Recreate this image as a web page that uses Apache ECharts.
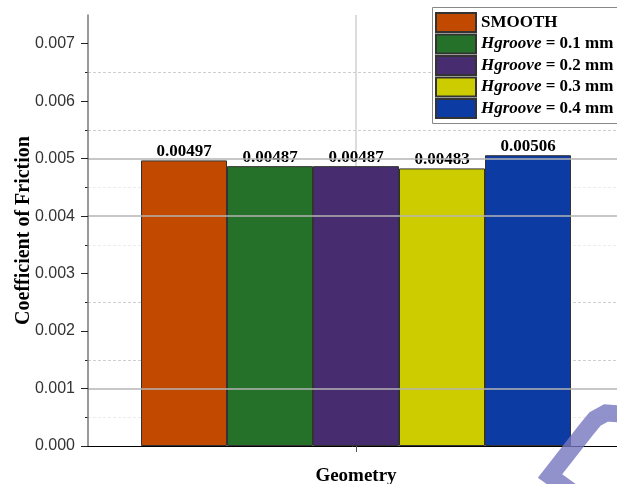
<!DOCTYPE html>
<html>
<head>
<meta charset="utf-8">
<script src="https://cdn.jsdelivr.net/npm/echarts@6/dist/echarts.min.js"></script>
<style>
html,body{margin:0;padding:0;background:#fff;}
#chart{width:617px;height:484px;}
</style>
</head>
<body>
<div id="chart"></div>
<script>
const categories = [''];
const seriesNames = ['SMOOTH', 'Hgroove = 0.1 mm', 'Hgroove = 0.2 mm', 'Hgroove = 0.3 mm', 'Hgroove = 0.4 mm'];
const values = [0.00497, 0.00487, 0.00487, 0.00483, 0.00506];
const colors = ['#C24A00', '#26712A', '#472C6F', '#CCCC00', '#0C3CA3'];
const yTicks = [0, 0.001, 0.002, 0.003, 0.004, 0.005, 0.006, 0.007];
const yMinorTicks = [0.0005, 0.0015, 0.0025, 0.0035, 0.0045, 0.0055, 0.0065];

const T = 'rgba(0,0,0,0)';
const serif = '"Liberation Serif", "Times New Roman", serif';
const sans = '"Liberation Sans", Arial, sans-serif';

const chart = echarts.init(document.getElementById('chart'), null, {renderer: 'canvas'});

const series = seriesNames.map((name, i) => ({
  name: name,
  type: 'bar',
  xAxisIndex: 0,
  yAxisIndex: 0,
  data: [values[i]],
  barWidth: 86,
  barGap: '0%',
  itemStyle: {color: colors[i], borderColor: '#333', borderWidth: 1},
  label: {
    show: true,
    position: 'top',
    distance: 0,
    formatter: p => p.value.toFixed(5),
    fontFamily: serif,
    fontWeight: 'bold',
    fontSize: 17,
    color: '#000'
  },
  z: 3
}));

const option = {
  backgroundColor: '#fff',
  animation: false,
  grid: {left: 88, top: 15, bottom: 38, right: -7, containLabel: false, outerBoundsMode: 'none'},
  xAxis: [
    {
      type: 'category',
      data: categories,
      name: 'Geometry',
      nameLocation: 'middle',
      nameGap: 21,
      nameMoveOverlap: false,
      nameTextStyle: {fontFamily: serif, fontWeight: 'bold', fontSize: 19, color: '#000'},
      axisLine: {onZero: false, lineStyle: {color: '#000', width: 1}},
      axisTick: {show: true, alignWithLabel: true, length: 6, lineStyle: {color: '#555'}},
      axisLabel: {show: false},
      splitLine: {show: false},
      z: 5
    },
    {
      type: 'value',
      min: -1,
      max: 1,
      interval: 1,
      show: true,
      position: 'bottom',
      axisLine: {show: false, onZero: false},
      axisTick: {show: false},
      axisLabel: {show: false},
      splitLine: {show: true, lineStyle: {color: [T, '#d0d0d0', T], width: 1.5}}
    }
  ],
  yAxis: [
    {
      type: 'value',
      min: 0,
      max: 0.0075,
      interval: 0.001,
      position: 'left',
      name: 'Coefficient of Friction',
      nameLocation: 'middle',
      nameGap: 54,
      nameMoveOverlap: false,
      nameTextStyle: {fontFamily: serif, fontWeight: 'bold', fontSize: 20, color: '#000'},
      axisLine: {show: true, onZero: false, lineStyle: {color: '#777', width: 1.5}},
      axisTick: {show: true, length: 7, customValues: yTicks, lineStyle: {color: '#222', width: 1}},
      axisLabel: {
        customValues: yTicks,
        margin: 13,
        fontFamily: sans,
        fontSize: 16,
        color: '#333',
        formatter: v => v.toFixed(3)
      },
      splitLine: {show: true, lineStyle: {color: [T, '#b5b5b5', T, T, '#b5b5b5', '#b5b5b5', T, T], width: 1.5}},
      z: 4
    },
    {
      type: 'value',
      min: 0,
      max: 0.0075,
      interval: 0.0005,
      position: 'left',
      axisLine: {show: false, onZero: false},
      axisTick: {show: true, length: 3, customValues: yMinorTicks, lineStyle: {color: '#222'}},
      axisLabel: {show: false},
      splitLine: {
        show: true,
        lineStyle: {
          type: [3, 2],
          width: 1,
          color: ['#ececec', '#cfcfcf', '#cfcfcf', '#ececec', '#ececec', '#cfcfcf', '#cfcfcf']
        }
      }
    }
  ],
  legend: {
    data: seriesNames,
    orient: 'vertical',
    left: 432,
    top: 7,
    itemWidth: 40,
    itemHeight: 19,
    itemGap: 0.5,
    padding: [5, 5, 5, 3],
    borderWidth: 0,
    icon: 'rect',
    selectedMode: false,
    formatter: name => name.indexOf('Hgroove') === 0
      ? '{i|Hgroove}{b|' + name.slice(7) + '}'
      : '{b|' + name + '}',
    textStyle: {
      fontFamily: serif,
      fontSize: 17,
      color: '#000',
      rich: {
        b: {fontFamily: serif, fontWeight: 'bold', fontSize: 17, color: '#000'},
        i: {fontFamily: serif, fontWeight: 'bold', fontStyle: 'italic', fontSize: 17, color: '#000'}
      }
    },
    z: 10
  },
  graphic: [
    {
      type: 'rect',
      z: 9,
      shape: {x: 432.5, y: 7.5, width: 200, height: 116},
      style: {fill: '#fff', stroke: '#888', lineWidth: 1}
    },
    {
      type: 'polyline',
      z: 100,
      shape: {points: [[622, 414], [606, 413], [595, 419], [586, 430], [550, 476], [575, 494]]},
      style: {fill: null, stroke: 'rgba(118,118,190,0.8)', lineWidth: 17, lineJoin: 'miter'}
    }
  ],
  series: series
};

chart.setOption(option);
</script>
</body>
</html>
